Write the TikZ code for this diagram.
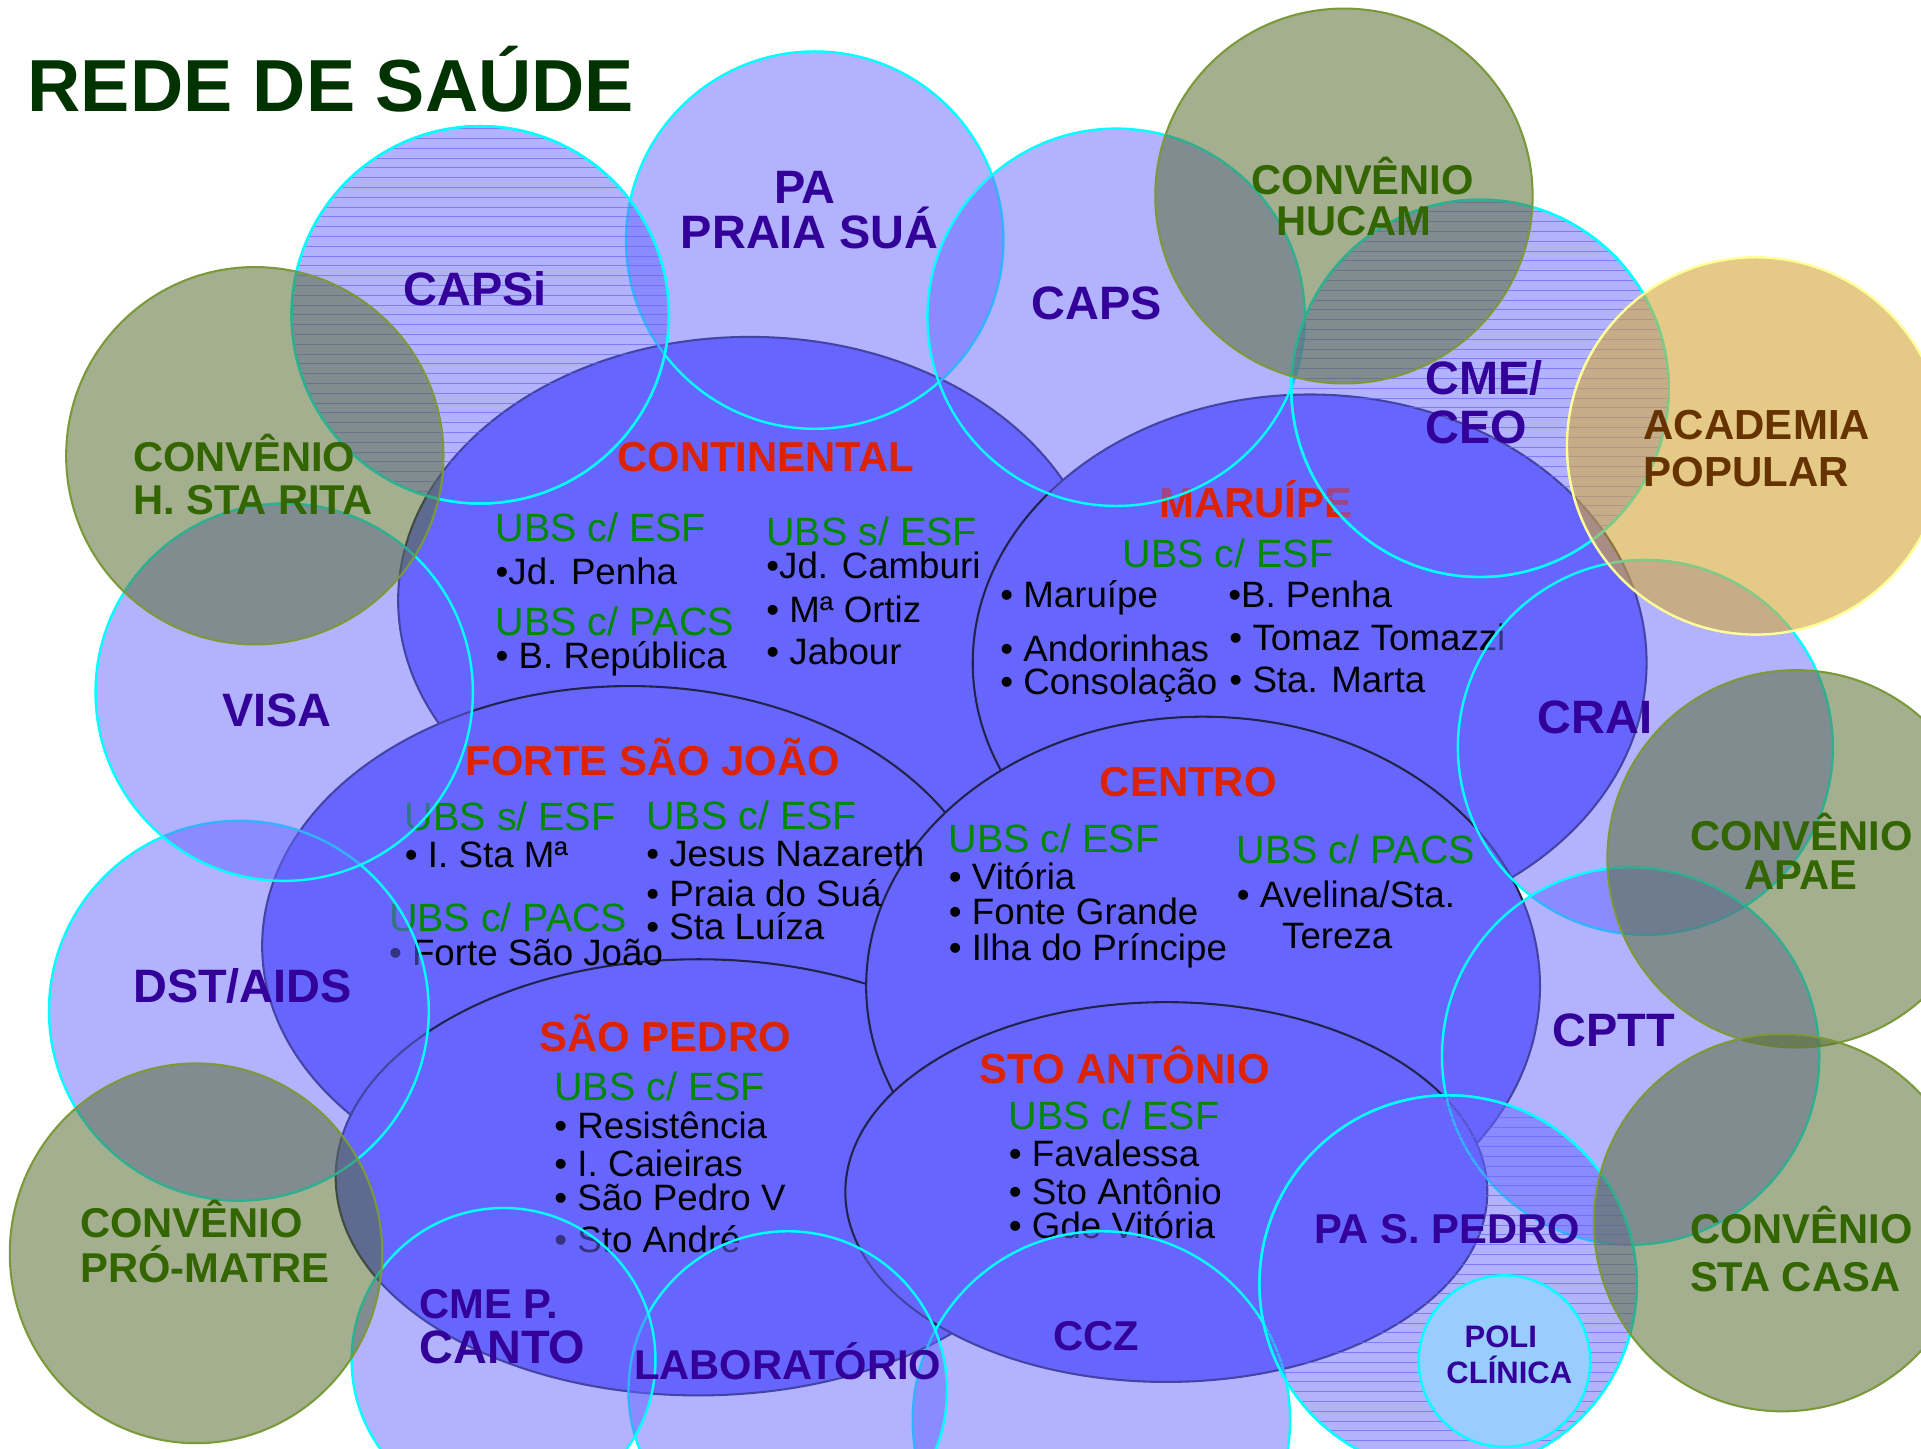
\documentclass[tikz,border=0pt]{standalone}
\usepackage{fontspec}
\setmainfont{Liberation Sans}

\definecolor{regfill}{HTML}{6666FF}
\definecolor{regline}{HTML}{22224A}
\definecolor{lightline}{HTML}{00FFFF}
\definecolor{convfill}{HTML}{586E33}
\definecolor{convline}{HTML}{7A9A3A}
\definecolor{acadfill}{HTML}{D4A838}
\definecolor{acadline}{HTML}{FFFF99}
\definecolor{polifill}{HTML}{99CCFF}
\definecolor{svcblue}{HTML}{330099}
\definecolor{convgreen}{HTML}{336600}
\definecolor{acadbrown}{HTML}{663300}
\definecolor{regred}{HTML}{DD2200}
\definecolor{ubsgreen}{HTML}{008800}
\definecolor{titlegreen}{HTML}{003300}

\tikzset{
  regionoval/.style={fill=regfill, draw=regline, line width=0.6pt},
  lightdisk/.style={fill=regfill, fill opacity=0.5, draw=lightline, line width=0.7pt},
  hatchline/.style={draw=regfill, draw opacity=0.7, line width=0.3pt},
  convdisk/.style={fill=convfill, fill opacity=0.55, draw=convline, line width=0.6pt},
  acaddisk/.style={fill=acadfill, fill opacity=0.6, draw=acadline, line width=0.7pt},
  polidisk/.style={fill=polifill, draw=lightline, line width=0.7pt},
  txt/.style={inner sep=0pt, anchor=base},
  flushw/.style={anchor=base west},
  titlelabel/.style={txt, flushw, text=titlegreen, font=\bfseries\fontsize{21.4}{24}\selectfont},
  svclabel/.style={txt, text=svcblue, font=\bfseries\fontsize{13.6}{16}\selectfont},
  svcsmall/.style={txt, text=svcblue, font=\bfseries\fontsize{12.1}{14}\selectfont},
  policlabel/.style={txt, text=svcblue, font=\bfseries\fontsize{9}{11}\selectfont},
  convlabel/.style={txt, text=convgreen, font=\bfseries\fontsize{12.1}{14}\selectfont},
  acadlabel/.style={txt, flushw, text=acadbrown, font=\bfseries\fontsize{12.2}{14}\selectfont},
  regionlabel/.style={txt, text=regred, font=\bfseries\fontsize{12.15}{14}\selectfont},
  ubshead/.style={txt, flushw, text=ubsgreen, font=\fontsize{11.45}{13}\selectfont},
  ubsitem/.style={txt, flushw, text=black, font=\fontsize{10.65}{12}\selectfont}
}

\begin{document}
\begin{tikzpicture}[x=0.0125cm, y=-0.0125cm]
\useasboundingbox (0,0) rectangle (1568,1182);
\clip (0,0) rectangle (1568,1182);
\fill[white] (0,0) rectangle (1568,1182);

\draw[regionoval] (612,490) ellipse (287 and 215);
\draw[regionoval] (1069,541) ellipse (275 and 219);
\draw[regionoval] (514,772) ellipse (300 and 212);
\draw[regionoval] (570,961) ellipse (296 and 178);
\draw[regionoval] (982,805) ellipse (275 and 220);
\draw[regionoval] (952,973) ellipse (262 and 155);

\node[regionlabel] (continental) at (625,385) {CONTINENTAL};
\node[ubshead] (con1) at (404,442) {UBS c/ ESF};
\node[ubsitem] (con2) at (404,477) {•Jd. Penha};
\node[ubshead] (con3) at (404,519) {UBS c/ PACS};
\node[ubsitem] (con4) at (404,546) {• B. República};
\node[ubshead] (con5) at (625,445) {UBS s/ ESF};
\node[ubsitem] (con6) at (625,472) {•Jd. Camburi};
\node[ubsitem] (con7) at (625,508) {• Mª Ortiz};
\node[ubsitem] (con8) at (625,542) {• Jabour};

\node[regionlabel] (maruipe) at (1025,422) {MARUÍPE};
\node[ubshead] (mar1) at (916,463) {UBS c/ ESF};
\node[ubsitem] (mar2) at (816,496) {• Maruípe};
\node[ubsitem] (mar3) at (816,540) {• Andorinhas};
\node[ubsitem] (mar4) at (816,567) {• Consolação};
\node[ubsitem] (mar5) at (1002,496) {•B. Penha};
\node[ubsitem] (mar6) at (1003,531) {• Tomaz Tomazzi};
\node[ubsitem] (mar7) at (1003,565) {• Sta. Marta};

\node[regionlabel] (forte) at (533,633) {FORTE SÃO JOÃO};
\node[ubshead] (for1) at (330,678) {UBS s/ ESF};
\node[ubsitem] (for2) at (330,708) {• I. Sta Mª};
\node[ubshead] (for3) at (317,760) {UBS c/ PACS};
\node[ubsitem] (for4) at (317,788) {• Forte São João};
\node[ubshead] (for5) at (527,677) {UBS c/ ESF};
\node[ubsitem] (for6) at (527,707) {• Jesus Nazareth};
\node[ubsitem] (for7) at (527,740) {• Praia do Suá};
\node[ubsitem] (for8) at (527,767) {• Sta Luíza};

\node[regionlabel] (centro) at (970,650) {CENTRO};
\node[ubshead] (cen1) at (774,696) {UBS c/ ESF};
\node[ubsitem] (cen2) at (774,726) {• Vitória};
\node[ubsitem] (cen3) at (774,755) {• Fonte Grande};
\node[ubsitem] (cen4) at (774,784) {• Ilha do Príncipe};
\node[ubshead] (cen5) at (1009,705) {UBS c/ PACS};
\node[ubsitem] (cen6) at (1009,741) {• Avelina/Sta.};
\node[ubsitem] (cen7) at (1046,774) {Tereza};

\node[regionlabel] (saopedro) at (543,858) {SÃO PEDRO};
\node[ubshead] (sp1) at (452,898) {UBS c/ ESF};
\node[ubsitem] (sp2) at (452,929) {• Resistência};
\node[ubsitem] (sp3) at (452,960) {• I. Caieiras};
\node[ubsitem] (sp4) at (452,988) {• São Pedro V};
\node[ubsitem] (sp5) at (452,1022) {• Sto André};

\node[regionlabel] (stoantonio) at (918,884) {STO ANTÔNIO};
\node[ubshead] (sa1) at (823,922) {UBS c/ ESF};
\node[ubsitem] (sa2) at (823,952) {• Favalessa};
\node[ubsitem] (sa3) at (823,983) {• Sto Antônio};
\node[ubsitem] (sa4) at (823,1011) {• Gde Vitória};

\foreach \cx/\cy/\r in {665/196/154, 911/259/154, 1343/610/153, 1331/862/154,
  899/1159/154, 643/1135/130, 411/1110/124, 195/825/155, 232/565/154}
  \draw[lightdisk] (\cx,\cy) circle (\r);
\foreach \cx/\cy in {392/257, 1208/317, 1182/1048} {
  \draw[lightdisk] (\cx,\cy) circle (154);
  \begin{scope}
    \clip (\cx,\cy) circle (154);
    \foreach \h in {-152,-144,...,152}
      \draw[hatchline] (\cx-160,\cy+\h) -- (\cx+160,\cy+\h);
  \end{scope}
  \draw[draw=lightline, line width=0.7pt] (\cx,\cy) circle (154);
}

\draw[convdisk] (208,372) circle (154);
\draw[convdisk] (1097,160) ellipse (154 and 153);
\draw[convdisk] (1466,701) circle (154);
\draw[convdisk] (1455,998) circle (154);
\draw[convdisk] (160,1023) ellipse (152 and 155);
\draw[acaddisk] (1433,364) circle (154);
\draw[polidisk] (1228,1111) circle (70);

\node[svclabel] (capsi) at (388,249) {CAPSi};
\node[svclabel] (pa) at (657,166) {PA};
\node[svclabel] (praiasua) at (661,203) {PRAIA SUÁ};
\node[svclabel] (caps) at (895,261) {CAPS};
\node[svclabel, flushw] (cme) at (1163,322) {CME/};
\node[svclabel, flushw] (ceo) at (1163,362) {CEO};
\node[svclabel] (visa) at (226,593) {VISA};
\node[svclabel] (crai) at (1302,599) {CRAI};
\node[svclabel] (dstaids) at (198,818) {DST/AIDS};
\node[svclabel] (cptt) at (1317,854) {CPTT};
\node[svcsmall, flushw] (cmep) at (342,1076) {CME P.};
\node[svclabel, flushw] (canto) at (342,1113) {CANTO};
\node[svcsmall] (lab) at (643,1126) {LABORATÓRIO};
\node[svcsmall] (ccz) at (895,1102) {CCZ};
\node[svcsmall] (pasp) at (1181,1015) {PA S. PEDRO};
\node[policlabel] (poli) at (1225,1100) {POLI};
\node[policlabel] (clinica) at (1232,1129) {CLÍNICA};

\node[convlabel, flushw] (conv1) at (1021,159) {CONVÊNIO};
\node[convlabel, flushw] (hucam) at (1041,192) {HUCAM};
\node[convlabel, flushw] (conv2) at (108,385) {CONVÊNIO};
\node[convlabel, flushw] (hstarita) at (108,420) {H. STA RITA};
\node[convlabel, flushw] (conv3) at (1379,694) {CONVÊNIO};
\node[convlabel] (apae) at (1470,726) {APAE};
\node[convlabel, flushw] (conv4) at (1379,1015) {CONVÊNIO};
\node[convlabel, flushw] (stacasa) at (1379,1054) {STA CASA};
\node[convlabel, flushw] (conv5) at (65,1010) {CONVÊNIO};
\node[convlabel, flushw] (promatre) at (65,1047) {PRÓ-MATRE};
\node[acadlabel] (academia) at (1341,359) {ACADEMIA};
\node[acadlabel] (popular) at (1341,397) {POPULAR};

\node[titlelabel] (title) at (22,91) {REDE DE SAÚDE};
\end{tikzpicture}
\end{document}
